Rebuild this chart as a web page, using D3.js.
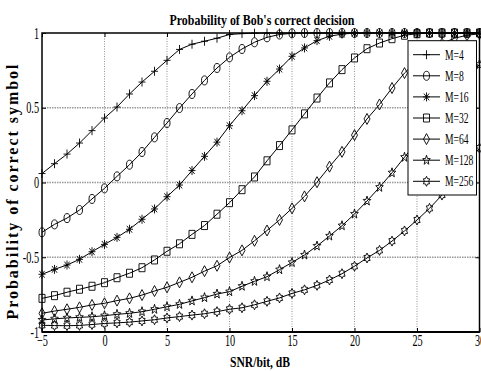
<!DOCTYPE html>
<html><head><meta charset="utf-8">
<script src="https://cdn.jsdelivr.net/npm/d3@7"></script>
<style>body{margin:0;background:#fff}svg{display:block}</style>
</head><body>
<script>
const snr = [-5,-4,-3,-2,-1,0,1,2,3,4,5,6,7,8,9,10,11,12,13,14,15,16,17,18,19,20,21,22,23,24,25,26,27,28,29,30];
const seriesNames = ["M=4","M=8","M=16","M=32","M=64","M=128","M=256"];
const pM4 = [0.06,0.126,0.19,0.264,0.347,0.431,0.505,0.592,0.672,0.744,0.817,0.89,0.925,0.945,0.965,0.99,0.996,0.999,1,1,1,1,1,1,1,1,1,1,1,1,1,1,1,1,1,1];
const pM8 = [-0.333,-0.28,-0.238,-0.184,-0.11,-0.039,0.041,0.119,0.204,0.302,0.398,0.498,0.592,0.683,0.766,0.837,0.893,0.938,0.971,0.99,0.998,1,1,1,1,1,1,1,1,1,1,1,1,1,1,1];
const pM16 = [-0.614,-0.581,-0.552,-0.514,-0.463,-0.414,-0.367,-0.313,-0.246,-0.177,-0.095,-0.017,0.08,0.175,0.27,0.38,0.48,0.581,0.677,0.759,0.844,0.9,0.949,0.978,0.993,0.999,1,1,1,1,1,1,1,1,1,1];
const pM32 = [-0.775,-0.757,-0.734,-0.714,-0.694,-0.67,-0.637,-0.607,-0.57,-0.518,-0.46,-0.41,-0.347,-0.288,-0.212,-0.135,-0.048,0.037,0.145,0.247,0.352,0.459,0.565,0.666,0.755,0.833,0.895,0.933,0.962,0.985,0.995,1,1,1,1,1];
const pM64 = [-0.875,-0.86,-0.848,-0.835,-0.819,-0.808,-0.79,-0.775,-0.753,-0.726,-0.701,-0.668,-0.634,-0.593,-0.557,-0.502,-0.454,-0.39,-0.321,-0.25,-0.173,-0.093,0.002,0.106,0.205,0.317,0.425,0.522,0.632,0.732,0.815,0.88,0.93,0.965,0.985,0.995];
const pM128 = [-0.92,-0.912,-0.906,-0.902,-0.898,-0.891,-0.882,-0.875,-0.864,-0.848,-0.831,-0.815,-0.792,-0.77,-0.746,-0.73,-0.694,-0.661,-0.63,-0.583,-0.535,-0.485,-0.425,-0.358,-0.289,-0.211,-0.124,-0.032,0.065,0.169,0.275,0.385,0.49,0.6,0.7,0.79];
const pM256 = [-0.955,-0.957,-0.958,-0.956,-0.95,-0.943,-0.939,-0.934,-0.926,-0.918,-0.906,-0.897,-0.887,-0.878,-0.864,-0.848,-0.838,-0.818,-0.795,-0.772,-0.742,-0.718,-0.688,-0.652,-0.61,-0.56,-0.505,-0.454,-0.392,-0.324,-0.251,-0.173,-0.084,0.02,0.125,0.23];
const xTicks = [-5,0,5,10,15,20,25,30];
const yTicks = [-1,-0.5,0,0.5,1];
const yTickLabels = ["-1","-0.5","0","0.5","1"];
const markerTypes = ["plus","circle","asterisk","square","diamond","pentagram","hexagram"];

const W = 481, H = 371;
const FONT = "'Liberation Serif','Times New Roman',serif";
const SX = 0.64;
const svg = d3.select("body").append("svg").attr("width", W).attr("height", H);
const x = d3.scaleLinear().domain([-5,30]).range([42,479.5]);
const y = d3.scaleLinear().domain([-1,1]).range([332,33]);
const allSeries = [pM4,pM8,pM16,pM32,pM64,pM128,pM256];

function starPath(n, rx, ry, inner){
  const pts = [];
  for (let i=0;i<2*n;i++){
    const a = -Math.PI/2 + i*Math.PI/n;
    const r = i%2===0 ? 1 : inner;
    pts.push([Math.cos(a)*rx*r, Math.sin(a)*ry*r]);
  }
  return "M" + pts.map(p=>p[0].toFixed(2)+","+p[1].toFixed(2)).join("L") + "Z";
}
function markerPath(t){
  switch(t){
    case "plus": return "M-3.5,0H3.5M0,-4.5V4.5";
    case "circle": return "M-3,0A3,4.5 0 1,0 3,0A3,4.5 0 1,0 -3,0Z";
    case "asterisk": return "M-3.5,0H3.5M0,-4.5V4.5M-2.6,-3.4L2.6,3.4M-2.6,3.4L2.6,-3.4";
    case "square": return "M-3,-4H3V4H-3Z";
    case "diamond": return "M0,-5.5L3,0L0,5.5L-3,0Z";
    case "pentagram": return starPath(5,4,5,0.42);
    case "hexagram": return starPath(6,3.6,5,0.6);
  }
}

// grid
const grid = svg.append("g");
grid.selectAll("line.v").data(xTicks.slice(1,-1)).join("line")
  .attr("x1", d=>x(d)).attr("x2", d=>x(d)).attr("y1", y(-1)).attr("y2", y(1))
  .attr("stroke","#777").attr("stroke-width",0.8).attr("stroke-dasharray","1,1.5");
grid.selectAll("line.h").data(yTicks.slice(1,-1)).join("line")
  .attr("y1", d=>y(d)).attr("y2", d=>y(d)).attr("x1", x(-5)).attr("x2", x(30))
  .attr("stroke","#999").attr("stroke-width",1.3).attr("stroke-dasharray","1.5,1");

// ticks (inward)
const axB = svg.append("g").attr("transform",`translate(0,${y(-1)})`)
  .call(d3.axisBottom(x).tickValues(xTicks).tickSizeInner(-4).tickSizeOuter(0).tickPadding(3).tickFormat(d3.format("d")));
const axT = svg.append("g").attr("transform",`translate(0,${y(1)})`)
  .call(d3.axisTop(x).tickValues(xTicks).tickSizeInner(-4).tickSizeOuter(0).tickFormat(""));
const axL = svg.append("g").attr("transform",`translate(${x(-5)},0)`)
  .call(d3.axisLeft(y).tickValues(yTicks).tickSizeInner(-4).tickSizeOuter(0).tickPadding(4.7).tickFormat((d,i)=>yTickLabels[i]));
const axR = svg.append("g").attr("transform",`translate(${x(30)},0)`)
  .call(d3.axisRight(y).tickValues(yTicks).tickSizeInner(-4).tickSizeOuter(0).tickFormat(""));
[axB,axT,axL,axR].forEach(a=>{
  a.select(".domain").remove();
  a.selectAll(".tick line").attr("stroke","#000");
  a.selectAll("text").attr("font-family",FONT).attr("font-size",16).attr("fill","#000");
});
axB.selectAll("text").attr("transform",`scale(${SX},1)`);
axL.selectAll("text").attr("transform",`scale(${SX},1)`).attr("dy","0.32em");

// series
const line = d3.line().x((d,i)=>x(snr[i])).y(d=>y(d));
const sg = svg.append("g");
allSeries.forEach((vals,k)=>{
  sg.append("path").attr("d", line(vals)).attr("fill","none").attr("stroke","#000").attr("stroke-width",1);
  sg.append("g").selectAll("path").data(vals).join("path")
    .attr("transform",(d,i)=>`translate(${x(snr[i])},${y(d)})`)
    .attr("d", markerPath(markerTypes[k]))
    .attr("fill","none").attr("stroke","#000").attr("stroke-width",0.9);
});

// frame
svg.append("rect").attr("x",x(-5)).attr("y",y(1)).attr("width",x(30)-x(-5)).attr("height",y(-1)-y(1))
  .attr("fill","none").attr("stroke","#000").attr("stroke-width",1.5);
svg.append("line").attr("x1",x(-5)).attr("x2",x(30)).attr("y1",y(-1)).attr("y2",y(-1))
  .attr("stroke","#000").attr("stroke-width",2);

// legend
const lg = svg.append("g");
lg.append("rect").attr("x",408).attr("y",40.7).attr("width",68.5).attr("height",154.3)
  .attr("fill","#fff").attr("stroke","#000").attr("stroke-width",1);
seriesNames.forEach((name,k)=>{
  const ey = 54.7 + k*21.1;
  lg.append("line").attr("x1",413).attr("x2",440).attr("y1",ey).attr("y2",ey).attr("stroke","#000");
  lg.append("path").attr("transform",`translate(426.5,${ey})`).attr("d",markerPath(markerTypes[k]))
    .attr("fill","none").attr("stroke","#000").attr("stroke-width",0.9);
  lg.append("text").attr("transform",`translate(445,${ey+5}) scale(${SX},1)`)
    .attr("font-family",FONT).attr("font-size",15).text(name);
});

// titles
svg.append("text").attr("x",262).attr("y",25).attr("text-anchor","middle")
  .attr("font-family",FONT).attr("font-weight","bold").attr("font-size",15)
  .attr("textLength",185).attr("lengthAdjust","spacingAndGlyphs")
  .text("Probability of Bob's correct decision");
svg.append("text").attr("x",260).attr("y",367).attr("text-anchor","middle")
  .attr("font-family",FONT).attr("font-weight","bold").attr("font-size",15)
  .attr("textLength",60).attr("lengthAdjust","spacingAndGlyphs")
  .text("SNR/bit, dB");
svg.append("text").attr("transform","translate(18,192) rotate(-90)").attr("text-anchor","middle")
  .attr("font-family",FONT).attr("font-weight","bold").attr("font-size",16)
  .attr("textLength",255).attr("lengthAdjust","spacing")
  .text("Probability of correct symbol");
</script>
</body></html>
